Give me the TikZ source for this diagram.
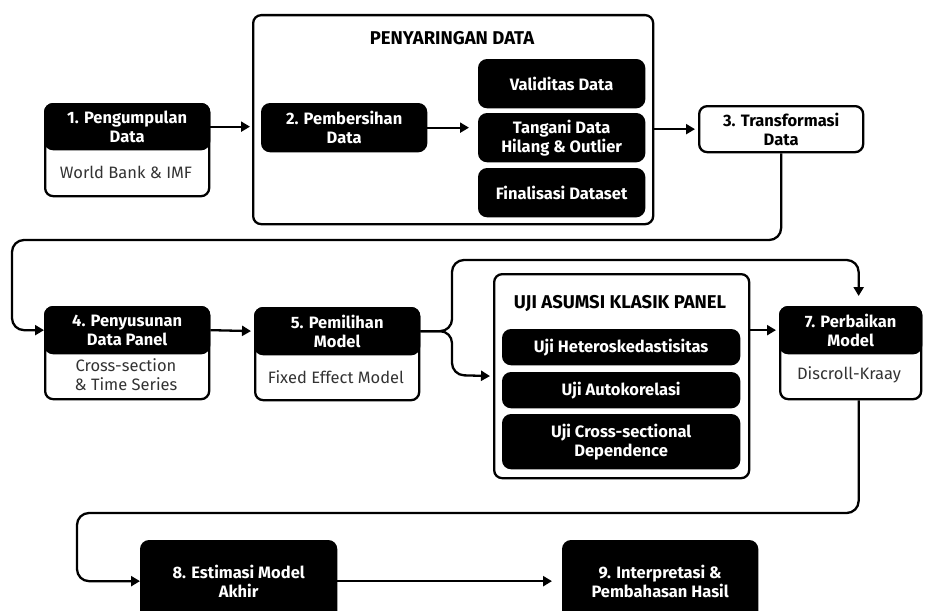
\documentclass[tikz,border=0pt]{standalone}
\usepackage{fontspec}
\setmainfont{Fira Sans}
\usetikzlibrary{arrows.meta,positioning}

\tikzset{
  base/.style={draw, line width=2.3pt, rounded corners=8pt, anchor=north west, inner sep=0pt, align=center},
  bodybox/.style={base, fill=white, text=black!80, font=\fontsize{16.5}{19}\selectfont},
  headbox/.style={base, fill=black, text=white, font=\fontsize{16.5}{19}\selectfont\bfseries},
  groupbox/.style={base, fill=white},
  grouptitle/.style={font=\fontsize{18.5}{21}\selectfont\bfseries, inner sep=0pt},
  note/.style={text=black!80, font=\fontsize{16.5}{19}\selectfont, align=center},
  link/.style={line width=2.3pt, rounded corners=12pt, -{Triangle[length=9pt,width=10pt]}}
}

\begin{document}
\begin{tikzpicture}[x=1pt, y=-1pt]
\useasboundingbox (0,0) rectangle (933,610);

\node[bodybox, minimum width=164pt, minimum height=92pt] (collect) at (44,103) {};
\node[headbox, minimum width=164pt, minimum height=45pt] (collecthead) at (44,103) {1. Pengumpulan\\Data};
\node[note] (collectnote) at (126,172) {World Bank \& IMF};

\node[groupbox, minimum width=400pt, minimum height=209pt] (filter) at (252,14) {};
\node[grouptitle] (filtertitle) at (452,38) {PENYARINGAN DATA};
\node[headbox, minimum width=164pt, minimum height=47pt] (clean) at (261,103) {2. Pembersihan\\Data};
\node[headbox, minimum width=165pt, minimum height=47pt] (valid) at (478,59) {Validitas Data};
\node[headbox, minimum width=165pt, minimum height=47pt] (handle) at (478,113) {Tangani Data\\Hilang \& Outlier};
\node[headbox, minimum width=165pt, minimum height=47pt] (final) at (478,168) {Finalisasi Dataset};

\node[bodybox, minimum width=164pt, minimum height=46pt, text=black, font=\fontsize{16.5}{19}\selectfont\bfseries] (transform) at (698,105) {3. Transformasi\\Data};

\node[bodybox, minimum width=164pt, minimum height=92pt] (panel) at (44,306) {};
\node[headbox, minimum width=164pt, minimum height=46pt] (panelhead) at (44,306) {4. Penyusunan\\Data Panel};
\node[note] (panelnote) at (126,375) {Cross-section\\\& Time Series};

\node[bodybox, minimum width=164pt, minimum height=92pt] (choose) at (254,307) {};
\node[headbox, minimum width=164pt, minimum height=46pt] (choosehead) at (254,307) {5. Pemilihan\\Model};
\node[note] (choosenote) at (336,377) {Fixed Effect Model};

\node[groupbox, minimum width=255pt, minimum height=204pt] (assume) at (493,273) {};
\node[grouptitle] (assumetitle) at (620,303) {UJI ASUMSI KLASIK PANEL};
\node[headbox, minimum width=236pt, minimum height=34pt] (hetero) at (502,329) {Uji Heteroskedastisitas};
\node[headbox, minimum width=236pt, minimum height=34pt] (autocor) at (502,372) {Uji Autokorelasi};
\node[headbox, minimum width=236pt, minimum height=53pt] (crossdep) at (502,414) {Uji Cross-sectional\\Dependence};

\node[bodybox, minimum width=141pt, minimum height=92pt] (fix) at (779,306) {};
\node[headbox, minimum width=141pt, minimum height=46pt] (fixhead) at (779,306) {7. Perbaikan\\Model};
\node[note] (fixnote) at (849,375) {Discroll-Kraay};

\node[headbox, minimum width=195pt, minimum height=80pt] (estimate) at (140,540) {8. Estimasi Model\\Akhir};
\node[headbox, minimum width=194pt, minimum height=80pt] (interpret) at (562,540) {9. Interpretasi \&\\Pembahasan Hasil};

\coordinate (bendtop) at (12,240);
\coordinate (forkup) at (452,260);
\coordinate (forkdown) at (452,375);
\coordinate (bendlow) at (77,513);

\draw[link, shorten >=2pt] (collecthead.east) -- (collecthead.east -| filter.west);
\draw[link, shorten >=9pt] (clean.east) -- (clean.east -| handle.west);
\draw[link, shorten >=3pt] (filter.east |- transform.west) -- (transform.west);
\draw[link] (transform.south) |- (bendtop) |- (panelhead.west);
\draw[link, shorten >=3pt] (panelhead.east) -- (choosehead.west);
\draw[link, shorten >=10pt] (choosehead.east) -| (forkup) -| ([xshift=8pt]fixhead.north);
\draw[link, shorten >=3pt] (choosehead.east) -| (forkdown) -- (assume.west);
\draw[link, shorten >=3pt] (assume.east |- fixhead.west) -- (fixhead.west);
\draw[link] ([xshift=8pt]fix.south) |- (bendlow) |- (estimate.west);
\draw[link, shorten >=10pt] (estimate.east) -- (interpret.west);
\end{tikzpicture}
\end{document}
